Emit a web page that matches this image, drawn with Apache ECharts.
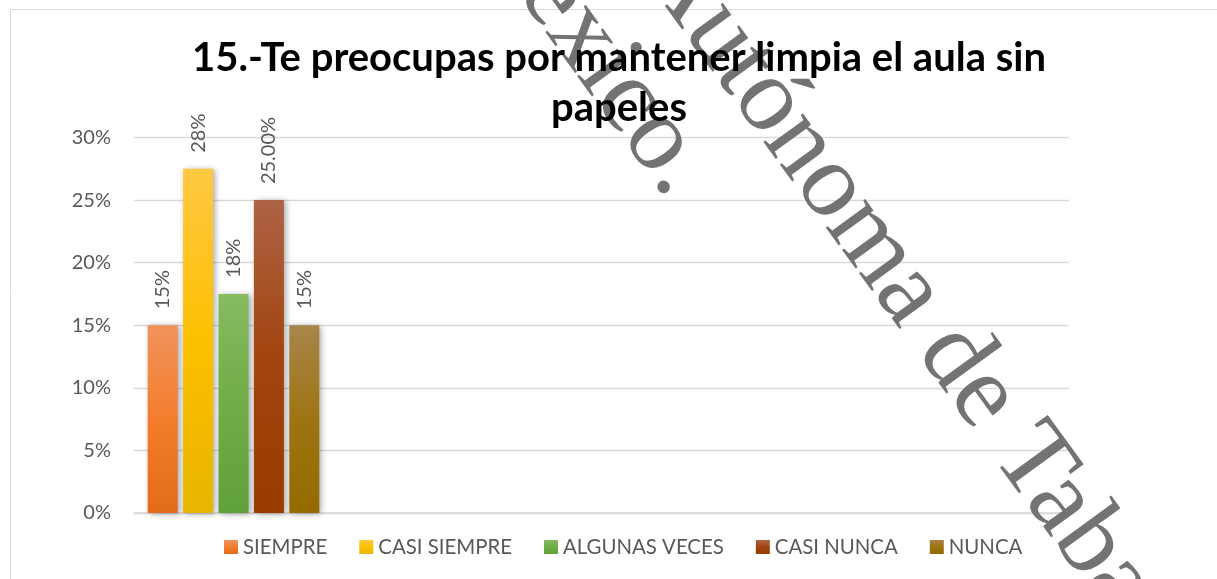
<!DOCTYPE html>
<html><head><meta charset="utf-8">
<script src="https://cdn.jsdelivr.net/npm/echarts@6/dist/echarts.min.js"></script>
<style>html,body{margin:0;padding:0;background:#fff}#c{width:1217px;height:579px}</style>
</head><body><div id="c"></div>
<script>
// ---- data ----
const titleText = '15.-Te preocupas por mantener limpia el aula sin\npapeles';
const categories = ['15'];
const seriesNames = ['SIEMPRE', 'CASI SIEMPRE', 'ALGUNAS VECES', 'CASI NUNCA', 'NUNCA'];
const seriesValues = [0.15, 0.275, 0.175, 0.25, 0.15];
const labelDecimals = [0, 0, 0, 2, 0];
const yMin = 0, yMax = 0.3, yStep = 0.05;
const watermarkLines = ['Autónoma de Tabasco', 'México.'];

// ---- styles ----
const gradients = [
  ['#F0935C', '#F47D2D', '#E36B1C'],
  ['#FFC843', '#FDC000', '#E8B500'],
  ['#86BB62', '#70AD47', '#61A13A'],
  ['#AD6345', '#A2440F', '#983C00'],
  ['#A8854B', '#9E7412', '#946A00']
];
const FONT = 'Lato, "Open Sans", sans-serif';

function grad(c) {
  return new echarts.graphic.LinearGradient(0, 0, 0, 1, [
    {offset: 0, color: c[0]}, {offset: 0.5, color: c[1]}, {offset: 1, color: c[2]}
  ]);
}

const chart = echarts.init(document.getElementById('c'), null, {renderer: 'canvas'});
const pct = v => Math.round(v * 100) + '%';
const ang = -54 * Math.PI / 180;

const option = {
  backgroundColor: '#fff',
  animation: false,
  title: {
    text: titleText,
    left: 614, top: 28, textAlign: 'center', z: 10,
    textStyle: {fontFamily: FONT, fontWeight: 'bold', fontSize: 40, lineHeight: 50, color: '#000'}
  },
  legend: {
    data: seriesNames,
    left: 219, top: 532,
    icon: 'rect', itemWidth: 14, itemHeight: 14, itemGap: 32,
    textStyle: {fontFamily: FONT, fontSize: 20.4, color: '#595959'},
    itemStyle: {shadowBlur: 0, shadowOffsetX: 0, shadowOffsetY: 0, shadowColor: 'rgba(0,0,0,0)'}
  },
  grid: [
    {left: 134, right: 148, top: 137.5, bottom: 66},
    {left: 134, width: 199, top: 137.5, bottom: 66}
  ],
  xAxis: [
    {gridIndex: 0, type: 'category', data: [''], axisTick: {show: false}, axisLabel: {show: false},
     axisLine: {lineStyle: {color: '#d9d9d9', width: 1.5}}},
    {gridIndex: 1, type: 'category', data: categories, show: false}
  ],
  yAxis: [
    {gridIndex: 0, type: 'value', min: yMin, max: yMax, interval: yStep,
     axisLine: {show: false}, axisTick: {show: false},
     axisLabel: {formatter: pct, margin: 23, fontFamily: FONT, fontSize: 20, color: '#595959'},
     splitLine: {lineStyle: {color: '#d9d9d9', width: 1.3}}},
    {gridIndex: 1, type: 'value', min: yMin, max: yMax, interval: yStep, show: false,
     splitLine: {show: false}}
  ],
  series: seriesNames.map((name, i) => ({
    name: name, type: 'bar', xAxisIndex: 1, yAxisIndex: 1,
    data: [seriesValues[i]],
    barWidth: 30, barGap: '18%',
    itemStyle: {color: grad(gradients[i]), shadowColor: 'rgba(0,0,0,0.35)', shadowBlur: 6, shadowOffsetX: 2, shadowOffsetY: 1},
    label: {
      show: true, position: 'top', rotate: 90, align: 'left', verticalAlign: 'middle', distance: 16,
      fontFamily: FONT, fontSize: 20, color: '#595959',
      formatter: p => (Math.round(p.value * 10000) / 100).toFixed(labelDecimals[i]) + '%'
    }
  })),
  graphic: [
    {type: 'rect', z: 0, silent: true,
     shape: {x: 10.5, y: 9.5, width: 1400, height: 800},
     style: {fill: 'none', stroke: '#d9d9d9', lineWidth: 1}},
    {type: 'text', z: 5, silent: true, x: 660, y: -48, rotation: ang,
     style: {text: watermarkLines[0], fontFamily: '"Liberation Serif", serif', fontSize: 106,
             fill: '#737373', align: 'left', verticalAlign: 'middle'}},
    {type: 'text', z: 5, silent: true, x: 690, y: 184, rotation: ang,
     style: {text: watermarkLines[1], fontFamily: '"Liberation Serif", serif', fontSize: 106,
             fill: '#737373', align: 'right', verticalAlign: 'middle'}}
  ]
};
chart.setOption(option);
</script>
</body></html>
